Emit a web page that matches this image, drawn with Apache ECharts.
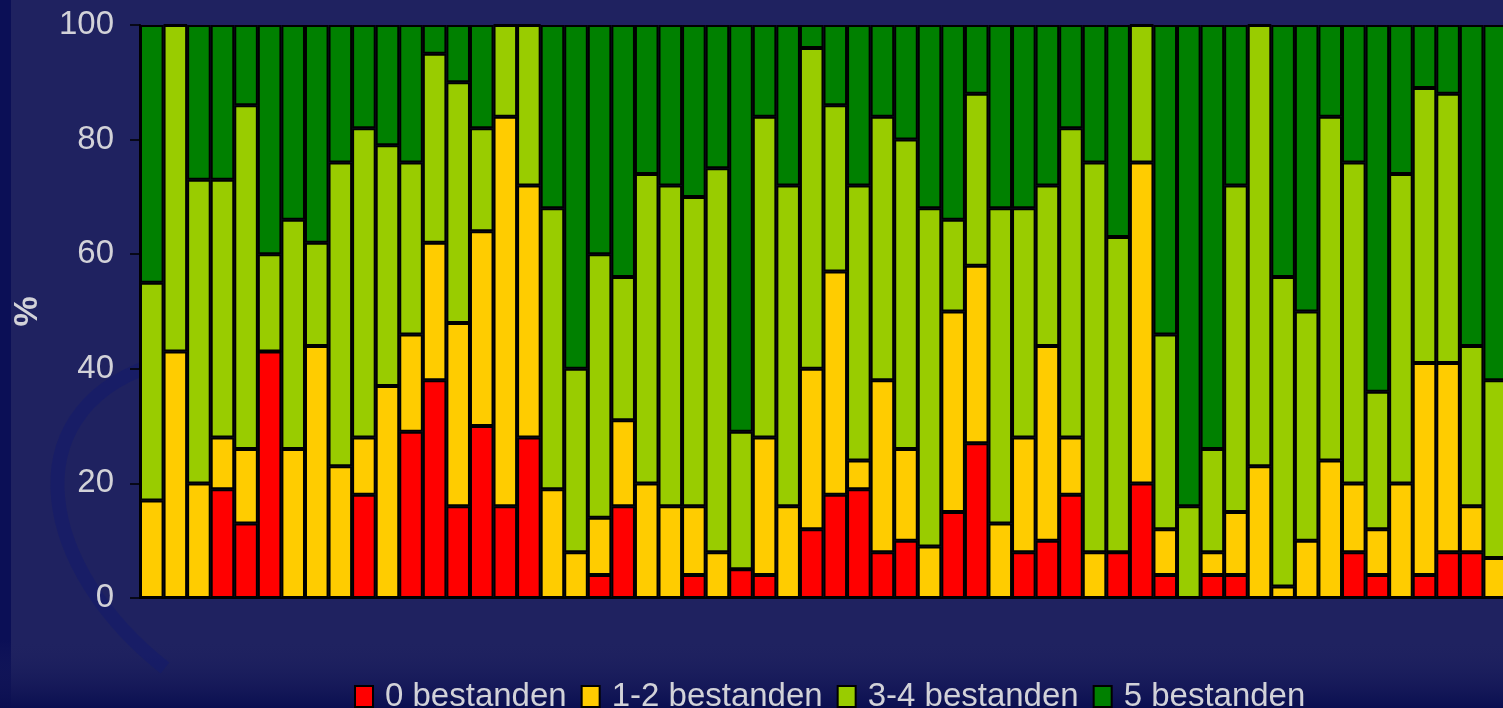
<!DOCTYPE html>
<html>
<head>
<meta charset="utf-8">
<script src="https://cdn.jsdelivr.net/npm/echarts@6/dist/echarts.min.js"></script>
<style>
html,body{margin:0;padding:0;background:#1f2260;}
#chart{width:1503px;height:708px;}
</style>
</head>
<body>
<div id="chart"></div>
<script>
// ---- data (percent per group) ----
const categories = Array.from({length: 58}, (_, i) => String(i + 1));
const seriesNames = ['0 bestanden', '1-2 bestanden', '3-4 bestanden', '5 bestanden'];
const bestanden0 = [0,0,0,19,13,43,0,0,0,18,0,29,38,16,30,16,28,0,0,4,16,0,0,4,0,5,4,0,12,18,19,8,10,0,15,27,0,8,10,18,0,8,20,4,0,4,4,0,0,0,0,8,4,0,4,8,8,0];
const bestanden12 = [17,43,20,9,13,0,26,44,23,10,37,17,24,32,34,68,44,19,8,10,15,20,16,12,8,0,24,16,28,39,5,30,16,9,35,31,13,20,34,10,8,0,56,8,0,4,11,23,2,10,24,12,8,20,37,33,8,7];
const bestanden34 = [38,57,53,45,60,17,40,18,53,54,42,30,33,42,18,16,28,49,32,46,25,54,56,54,67,24,56,56,56,29,48,46,54,59,16,30,55,40,28,54,68,55,24,34,16,18,57,77,54,40,60,56,24,54,48,47,28,31];
const bestanden5 = [45,0,27,27,14,40,34,38,24,18,21,24,5,10,18,0,0,32,60,40,44,26,28,30,25,71,16,28,4,14,28,16,20,32,34,12,32,32,28,18,24,37,0,54,84,74,28,0,44,50,16,24,64,26,11,12,56,62];
const yTicks = {min: 0, max: 100, interval: 20};
const colors = ['#ff0000', '#ffcc00', '#99cc00', '#008000'];
// -----------------------------------------------------------

const chart = echarts.init(document.getElementById('chart'));
const dataArrays = [bestanden0, bestanden12, bestanden34, bestanden5];
const labelColor = '#d2d2d8';
const fontFam = 'Liberation Sans, Arial, sans-serif';

const series = seriesNames.map((name, i) => ({
  name: name,
  type: 'bar',
  stack: 'total',
  data: dataArrays[i],
  barCategoryGap: 0,
  barGap: 0,
  itemStyle: {color: colors[i], borderColor: '#000', borderWidth: 2},
  emphasis: {disabled: true},
  silent: true,
  animation: false
}));

chart.setOption({
  backgroundColor: '#1f2260',
  animation: false,
  graphic: [
    {type: 'rect', shape: {x: 0, y: 0, width: 11, height: 708}, style: {fill: '#0b0f56'}, z: -10},
    {type: 'rect', shape: {x: 0, y: 640, width: 1503, height: 68},
     style: {fill: new echarts.graphic.LinearGradient(0, 0, 0, 1, [
       {offset: 0, color: 'rgba(31,34,96,0)'},
       {offset: 1, color: '#0a0e50'}
     ])}, z: -10},
    {type: 'bezierCurve', shape: {x1: 150, y1: 366, cpx1: 10, cpy1: 415, cpx2: 40, cpy2: 570, x2: 165, y2: 668},
     style: {stroke: '#141a6a', lineWidth: 14, opacity: 0.6}, z: -9}
  ],
  grid: {left: 140, top: 25, width: 1367, height: 573, containLabel: false, outerBoundsMode: 'none'},
  legend: {
    data: seriesNames,
    left: 349,
    top: 675,
    icon: 'rect',
    itemWidth: 18,
    itemHeight: 21,
    itemGap: 14,
    itemStyle: {borderColor: '#000', borderWidth: 2},
    textStyle: {color: labelColor, fontSize: 33, fontFamily: fontFam, padding: [0, 0, 0, 7]},
    selectedMode: false
  },
  xAxis: {
    type: 'category',
    data: categories,
    axisLine: {show: true, lineStyle: {color: '#000', width: 2}},
    axisTick: {show: false},
    axisLabel: {show: false},
    splitLine: {show: false}
  },
  yAxis: {
    type: 'value',
    min: yTicks.min,
    max: yTicks.max,
    interval: yTicks.interval,
    name: '%',
    nameLocation: 'middle',
    nameGap: 95,
    nameRotate: 90,
    nameTextStyle: {color: labelColor, fontSize: 34, fontWeight: 'bold', fontFamily: fontFam},
    axisLine: {show: true, lineStyle: {color: '#000', width: 2}},
    axisTick: {show: true, inside: false, length: 10, lineStyle: {color: '#000', width: 1.5}},
    axisLabel: {color: labelColor, fontSize: 33, margin: 26, fontFamily: fontFam},
    splitLine: {show: false}
  },
  series: series
});
</script>
</body>
</html>
